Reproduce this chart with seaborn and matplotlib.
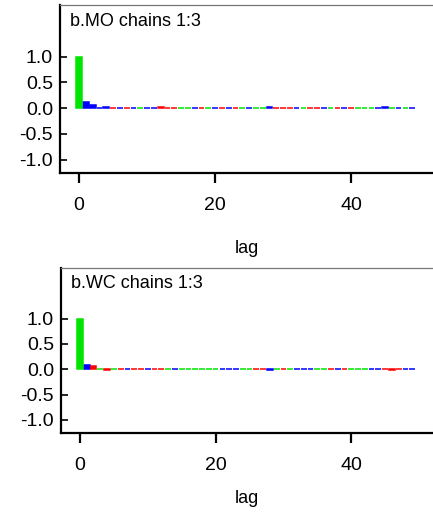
import matplotlib
matplotlib.use("Agg")
import matplotlib.pyplot as plt
import numpy as np
import pandas as pd
import seaborn as sns

# ---- data ----
lags = list(range(50))
chain_colors = {"1": "#0000ff", "2": "#ff0000", "3": "#00e600"}
cmap_letter = {"B": "1", "R": "2", "G": "3"}

mo_title = "b.MO chains 1:3"
mo_top_chain = ("G B B B B R B R B G B B R R R G G B R G B R B R G "
                "B G G B R R R B G R R B G R B R G G G B B G B G B").split()
mo_acf = [1.0, 0.11, 0.06, 0.004, 0.012, -0.003, 0.0, -0.003, 0.0, -0.003,
          0.0, 0.0, 0.012, -0.003, -0.003, 0.0, -0.003, 0.0, -0.003, -0.003,
          0.0, -0.003, 0.0, -0.003, 0.0, -0.003, 0.0, 0.0, 0.012, -0.003,
          -0.003, -0.003, 0.0, -0.003, -0.003, 0.0, 0.0, -0.003, -0.003, 0.0,
          -0.003, 0.0, -0.003, 0.0, 0.0, 0.012, -0.003, 0.0, -0.003, 0.0]

wc_title = "b.WC chains 1:3"
wc_top_chain = ("G B R G R G R B R R B R R G B G G G G G G B B B G "
                "G R R B G R G B B B G G R B R G G G B B R R R B B").split()
wc_acf = [1.0, 0.09, 0.06, 0.003, -0.012, 0.0, 0.003, 0.0, 0.003, 0.0,
          0.0, 0.003, 0.0, 0.0, 0.003, 0.0, 0.0, -0.003, 0.0, 0.0,
          0.0, 0.0, -0.003, 0.0, 0.0, 0.0, 0.003, 0.0, -0.012, 0.0,
          0.0, 0.0, 0.0, 0.003, -0.003, -0.003, 0.0, 0.0, 0.0, 0.0,
          0.0, 0.003, 0.0, 0.0, 0.0, 0.003, -0.012, 0.0, 0.0, 0.0]

yticks = [-1.0, -0.5, 0.0, 0.5, 1.0]
ytick_labels = ["-1.0", "-0.5", "0.0", "0.5", "1.0"]
xticks = [0, 20, 40]

# ---- style ----
sns.set_style("white")
plt.rcParams["font.family"] = ["Liberation Sans", "DejaVu Sans"]
plt.rcParams["axes.unicode_minus"] = False
plt.rcParams["text.color"] = "black"
plt.rcParams["axes.labelcolor"] = "black"
plt.rcParams["xtick.color"] = "black"
plt.rcParams["ytick.color"] = "black"

fig = plt.figure(figsize=(4.33, 5.12), dpi=100)
W, H = 433.0, 512.0


def panel(rect_px, acf, top_chain, title, labelpad):
    left, top, right, bottom = rect_px
    ax = fig.add_axes([left / W, 1 - bottom / H, (right - left) / W, (bottom - top) / H])
    df = pd.DataFrame({"lag": lags, "acf": acf,
                       "chain": [cmap_letter[c] for c in top_chain]})
    sns.barplot(data=df, x="lag", y="acf", hue="chain", palette=chain_colors,
                hue_order=["1", "2", "3"], native_scale=True, dodge=False,
                width=0.85, saturation=1, errorbar=None, legend=False, ax=ax)
    for p in ax.patches:
        p.set_edgecolor(p.get_facecolor())
        p.set_linewidth(1.1)
    ax.set_xlim(-2.8, 52.06)
    ax.set_ylim(-1.26, 2.0)
    ax.set_yticks(yticks)
    ax.set_yticklabels(ytick_labels)
    ax.set_xticks(xticks)
    ax.set_xticklabels([str(t) for t in xticks])
    ax.set_ylabel("")
    ax.set_xlabel("lag", fontsize=13, labelpad=labelpad, color="black")
    ax.tick_params(axis="y", direction="in", length=5, width=1.2,
                   labelsize=14, pad=5, color="black", labelcolor="black", left=True)
    ax.tick_params(axis="x", direction="out", length=7, width=1.6,
                   labelsize=14, pad=10, color="black", labelcolor="black", bottom=True)
    for s in ["left", "bottom"]:
        ax.spines[s].set_color("black")
        ax.spines[s].set_linewidth(1.6)
    ax.spines["top"].set_color("#777777")
    ax.spines["top"].set_linewidth(0.9)
    ax.spines["right"].set_visible(False)
    ax.text(0.027, 0.955, title, transform=ax.transAxes, ha="left", va="top",
            fontsize=13, color="black")
    return ax


panel((60, 5, 433, 173), mo_acf, mo_top_chain, mo_title, 19)
panel((61, 268, 433, 433), wc_acf, wc_top_chain, wc_title, 12)

fig.savefig("out.png", dpi=100)
